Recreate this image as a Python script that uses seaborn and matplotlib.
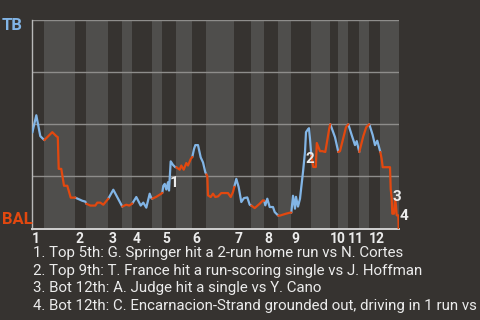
import numpy as np
import pandas as pd
import matplotlib
matplotlib.use("Agg")
import matplotlib.pyplot as plt
import seaborn as sns

# ---------------- data ----------------
# pitch index of win-probability samples and TB win probability (%)
pitch = [0, 4, 8, 12, 20, 24, 25.5, 26.4, 29, 31.7, 35, 38.4, 43, 50, 53, 54, 58, 63, 65, 68,
         71, 76, 81, 90, 92, 94, 97, 100, 104, 108.4, 111, 114, 117.4, 119, 120, 124, 129,
         130, 131, 132.4, 134, 135.7, 136.7, 138.4, 140.7, 143, 144, 147.4, 149, 151.4, 154,
         155.7, 158.4, 160, 161.7, 163, 165.7, 168.4, 170.7, 173, 174, 175, 175.7, 178.4,
         180.7, 183, 185.7, 189, 195.7, 198.4, 200.7, 202, 204, 206.4, 209, 211.7, 215,
         217.4, 219, 222.4, 227.4, 230.7, 232, 233, 235, 237.4, 240.7, 242.4, 245.7, 246,
         247.7, 253.7, 257.7, 259, 260.7, 262.7, 263.7, 265.7, 267.7, 270.7, 272.7, 273.7,
         275.7, 276.7, 277.7, 279, 281, 283.5, 284.5, 287.7, 290, 293, 297, 298, 302.7,
         306, 307.7, 313.7, 316, 319.4, 322.7, 324.4, 327, 331, 334, 337, 340.4, 342.7, 345,
         348, 349.4, 350.4, 357.7, 358.4, 359.4, 360, 361.7, 362.7, 363.7, 364.4, 366, 366.4]
wp = [46, 54.3, 44.3, 42.4, 46.2, 44.3, 43.8, 28.6, 28.6, 20.5, 20.5, 14.8, 14.8, 13.3, 12.9,
      11.9, 11.0, 11.0, 12.4, 12.4, 11.4, 14.3, 18.6, 10.5, 11.0, 11.4, 11.0, 12.0, 15.1,
      11.0, 12.4, 10.0, 16.7, 14.6, 14.3, 15.2, 16.7, 17.1, 20.5, 21.4, 18.7, 22.2, 18.2,
      32.2, 30.5, 29.4, 29.4, 28.2, 30.2, 28.2, 31.4, 30.2, 33.3, 34.3, 38.1, 40.0, 40.0,
      34.1, 31.7, 27.0, 26.0, 25.1, 15.9, 15.1, 16.7, 15.1, 15.4, 17.0, 17.0, 15.1, 17.5,
      20.0, 23.8, 19.8, 12.7, 14.6, 14.9, 11.4, 11.0, 9.8, 11.9, 13.5, 13.3, 11.1, 14.3,
      10.3, 10.3, 7.9, 6.3, 6.2, 6.2, 7.1, 7.6, 7.6, 15.7, 9.5, 15.2, 10.5, 14.3, 27.1,
      36.7, 46.2, 47.6, 48.1, 42.9, 35.0, 29.5, 29.5, 41.0, 37.1, 37.1, 36.7, 48.1, 50.0,
      43.8, 36.7, 37.1, 48.6, 50.0, 44.8, 40.0, 41.9, 36.7, 44.3, 48.6, 50.0, 44.8, 40.0,
      42.1, 36.7, 33.3, 29.4, 29.4, 19.0, 14.3, 7.1, 7.1, 14.3, 11.0, 6.3, 6.3, 0.0]

# half-inning boundaries (pitch index); even halves = top (TB bats), odd = bottom (BAL bats)
half_bounds = [0, 12, 43, 54, 76, 90, 100, 120, 130, 144, 160, 174, 202, 219, 232, 246,
               259, 279, 298, 306, 316, 327, 337, 348, 366.4]
innings = ["1", "2", "3", "4", "5", "6", "7", "8", "9", "10", "11", "12"]

# event markers (label, pitch, wp)
event_labels = ["1", "2", "3", "4"]
event_x = [142.2, 277.7, 364.7, 371.2]
event_y = [21.9, 33.3, 15.2, 6.0]

event_text = [
    "1. Top 5th: G. Springer hit a 2-run home run vs N. Cortes",
    "2. Top 9th: T. France hit a run-scoring single vs J. Hoffman",
    "3. Bot 12th: A. Judge hit a single vs Y. Cano",
    "4. Bot 12th: C. Encarnacion-Strand grounded out, driving in 1 run vs",
]

away_team, home_team = "TB", "BAL"

# ---------------- style ----------------
BG = "#363330"
BAND = "#4f4e4c"
GRID = "#8e8d8b"
BLUE = "#82b5e6"
ORANGE = "#e2480f"
TXT = "#ececec"

sns.set_theme(style="dark")
plt.rcParams["font.family"] = ["Roboto", "DejaVu Sans"]

fig = plt.figure(figsize=(4.8, 3.2), dpi=100, facecolor=BG)
ax = fig.add_axes([32.3 / 480, 91.5 / 320, 366.4 / 480, 208.5 / 320])
ax.set_facecolor(BG)

# bottom-half bands
for i in range(1, len(half_bounds) - 1, 2):
    ax.axvspan(half_bounds[i], half_bounds[i + 1], color=BAND, lw=0, zorder=0)

# build segments per half inning
rows = []
p_arr = np.array(pitch)
w_arr = np.array(wp)
for i in range(len(half_bounds) - 1):
    lo, hi = half_bounds[i], half_bounds[i + 1]
    m = (p_arr >= lo) & (p_arr <= hi)
    for p, w in zip(p_arr[m], w_arr[m]):
        rows.append({"pitch": p, "wp": w, "half": i,
                     "team": away_team if i % 2 == 0 else home_team})
df = pd.DataFrame(rows)

sns.lineplot(data=df, x="pitch", y="wp", hue="team", units="half", estimator=None,
             palette={away_team: BLUE, home_team: ORANGE}, legend=False, lw=1.6,
             sort=False, ax=ax, zorder=3)

ax.set_xlim(0, 366.4)
ax.set_ylim(0, 100)
for g in [25, 50, 75, 100]:
    ax.axhline(g, color=GRID, lw=1.0, zorder=1)

ax.set_yticks([])
ax.set_xlabel("")
ax.set_ylabel("")
inning_starts = half_bounds[0:-1:2]
ax.set_xticks(inning_starts)
ax.set_xticklabels(innings, fontsize=10, fontweight="bold", color=TXT, ha="left")
ax.tick_params(axis="x", length=0, pad=2.2)
ax.grid(False)
for s in ["top", "right"]:
    ax.spines[s].set_visible(False)
ax.spines["left"].set_color("#b9b9b9")
ax.spines["bottom"].set_color("#d0d0d0")
ax.spines["left"].set_linewidth(1.0)
ax.spines["bottom"].set_linewidth(1.4)

for lab, x, y in zip(event_labels, event_x, event_y):
    ax.text(x, y, lab, fontsize=11, fontweight="bold", color=TXT, ha="center",
            va="center", zorder=5, clip_on=False)

fig.text(2 / 480, 1 - 26 / 320, away_team, color=BLUE, fontsize=12, fontweight="bold",
         ha="left", va="center")
fig.text(2 / 480, 1 - 219.5 / 320, home_team, color=ORANGE, fontsize=12, fontweight="bold",
         ha="left", va="center")

for k, t in enumerate(event_text):
    fig.text(33 / 480, 1 - (253 + 17.6 * k) / 320, t, color=TXT, fontsize=10.8,
             ha="left", va="center")

fig.savefig("out.png", dpi=100, facecolor=BG)
